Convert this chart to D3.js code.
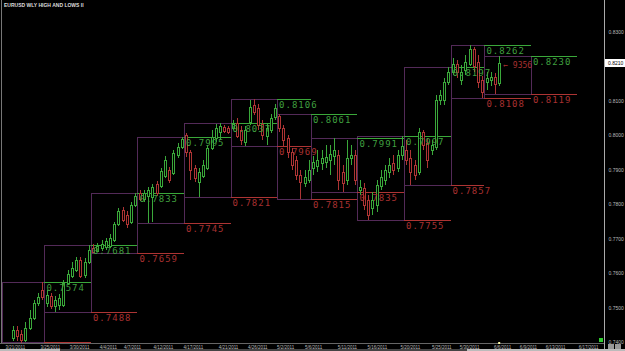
<!DOCTYPE html>
<html>
<head>
<meta charset="utf-8">
<script src="https://cdn.jsdelivr.net/npm/d3@7"></script>
<style>
  html, body { margin: 0; padding: 0; background: #000; overflow: hidden; }
  svg { display: block; }
  text { font-family: "DejaVu Sans Mono", monospace; }
</style>
</head>
<body>
<div id="root"></div>
<script>
// candle data, one entry per bar
var opens  = [0.7411,0.7435,0.7423,0.7406,0.7441,0.7470,0.7513,0.7551,0.7513,0.7533,0.7504,0.7507,0.7507,0.7571,0.7592,0.7609,0.7638,0.7594,0.7632,
  0.7673,0.7664,0.7673,0.7676,0.7679,0.7696,0.7743,0.7783,0.7769,0.7748,0.7798,0.7833,0.7815,0.7824,0.7821,0.7859,0.7853,0.7882,0.7899,0.7891,0.7943,0.7966,
  0.8001,0.7952,0.7905,0.7864,0.7882,0.7905,0.7963,0.7992,0.8010,0.8024,0.8021,0.8021,0.8036,0.8015,0.7981,0.8039,0.8088,0.8079,0.8033,0.7998,0.8015,0.8053,
  0.8056,0.8021,0.7992,0.7952,0.7928,0.7885,0.7862,0.7870,0.7905,0.7911,0.7920,0.7923,0.7928,0.7940,0.7943,0.7893,0.7870,0.7934,0.7943,
  0.7841,0.7847,0.7812,0.7789,0.7798,0.7853,0.7870,0.7893,0.7920,0.7905,0.7943,0.7957,0.7934,0.7914,0.7893,0.8010,0.7978,0.7957,0.7966,0.8103,0.8103,0.8155,
  0.8184,0.8207,0.8161,0.8190,0.8207,0.8250,0.8213,0.8161,0.8155,0.8161,0.8169,0.8152];
var highs  = [0.7446,0.7446,0.7435,0.7458,0.7493,0.7522,0.7542,0.7574,0.7551,0.7542,0.7533,0.7539,0.7580,0.7609,0.7632,0.7647,0.7647,0.7644,0.7681,
  0.7684,0.7687,0.7696,0.7702,0.7713,0.7748,0.7789,0.7792,0.7780,0.7806,0.7833,0.7841,0.7841,0.7850,0.7859,0.7867,0.7905,0.7940,0.7908,0.7957,0.7978,0.7995,
  0.8007,0.7957,0.7914,0.7905,0.7928,0.7972,0.8015,0.8033,0.8037,0.8030,0.8027,0.8044,0.8050,0.8027,0.8027,0.8103,0.8106,0.8091,0.8044,0.8033,0.8062,0.8091,
  0.8061,0.8030,0.8001,0.7963,0.7940,0.7899,0.7899,0.7928,0.7940,0.7957,0.7957,0.7972,0.7972,0.7991,0.7957,0.7914,0.7986,0.7972,0.7957,
  0.7870,0.7862,0.7827,0.7835,0.7870,0.7899,0.7914,0.7934,0.7943,0.7957,0.7997,0.7986,0.7957,0.7928,0.8021,0.8015,0.7992,0.7986,0.8117,0.8132,0.8166,0.8197,
  0.8225,0.8219,0.8204,0.8233,0.8262,0.8256,0.8233,0.8172,0.8184,0.8184,0.8181,0.8230];
var lows   = [0.7403,0.7403,0.7397,0.7400,0.7435,0.7464,0.7504,0.7522,0.7502,0.7496,0.7488,0.7493,0.7502,0.7565,0.7586,0.7603,0.7586,0.7586,0.7626,
  0.7659,0.7661,0.7664,0.7667,0.7673,0.7690,0.7737,0.7748,0.7731,0.7743,0.7792,0.7809,0.7806,0.7745,0.7748,0.7824,0.7847,0.7876,0.7862,0.7885,0.7934,0.7960,
  0.7937,0.7870,0.7864,0.7821,0.7876,0.7899,0.7957,0.7981,0.7986,0.8007,0.8004,0.8015,0.7992,0.7972,0.7969,0.8030,0.8059,0.8015,0.7986,0.7972,0.8007,0.8044,
  0.8010,0.7966,0.7934,0.7899,0.7870,0.7815,0.7850,0.7862,0.7885,0.7893,0.7899,0.7905,0.7885,0.7914,0.7841,0.7835,0.7856,0.7914,0.7856,
  0.7827,0.7783,0.7755,0.7769,0.7777,0.7841,0.7856,0.7876,0.7885,0.7893,0.7928,0.7914,0.7857,0.7870,0.7885,0.7957,0.7905,0.7943,0.7957,0.8088,0.8088,0.8146,
  0.8175,0.8166,0.8146,0.8175,0.8201,0.8184,0.8137,0.8108,0.8132,0.8143,0.8119,0.8143];
var closes = [0.7435,0.7417,0.7406,0.7441,0.7470,0.7513,0.7531,0.7531,0.7536,0.7504,0.7522,0.7528,0.7571,0.7597,0.7615,0.7638,0.7592,0.7632,0.7667,
  0.7661,0.7679,0.7684,0.7693,0.7702,0.7743,0.7780,0.7754,0.7743,0.7798,0.7824,0.7815,0.7833,0.7841,0.7850,0.7833,0.7896,0.7928,0.7870,0.7949,0.7966,0.7989,
  0.7952,0.7899,0.7876,0.7893,0.7914,0.7963,0.7995,0.8021,0.8027,0.8013,0.8010,0.8033,0.7998,0.7986,0.8015,0.8082,0.8068,0.8030,0.8001,0.8021,0.8050,0.8079,
  0.8021,0.7986,0.7952,0.7914,0.7885,0.7864,0.7879,0.7899,0.7923,0.7928,0.7934,0.7937,0.7946,0.7957,0.7870,0.7862,0.7934,0.7943,0.7870,
  0.7850,0.7798,0.7769,0.7812,0.7856,0.7879,0.7899,0.7914,0.7899,0.7943,0.7969,0.7928,0.7893,0.7885,0.8010,0.7972,0.7928,0.7972,0.8103,0.8117,0.8155,0.8184,
  0.8207,0.8184,0.8184,0.8213,0.8250,0.8201,0.8155,0.8126,0.8166,0.8169,0.8149,0.8210];

// weekly boxes: bar-index boundaries, highs and lows
var weekBounds = [-2.5, 7.5, 18.5, 29.5, 40.5, 51.5, 62.5, 70.5, 81.5, 92.5, 103.5, 111.5, 122.5, 133.5];
var weekHighs  = [0.7574, 0.7681, 0.7833, 0.7995, 0.8037, 0.8106, 0.8061, 0.7991, 0.7997, 0.8197, 0.8262, 0.8230];
var weekLows   = [0.7400, 0.7488, 0.7659, 0.7745, 0.7821, 0.7969, 0.7815, 0.7835, 0.7755, 0.7857, 0.8108, 0.8119];

// axis ticks (0.8200 sits under the price tag)
var priceTicks = [0.74, 0.75, 0.76, 0.77, 0.78, 0.79, 0.80, 0.81, 0.83];
var dateTickIdx = [0.5, 8.8, 15.7, 22.5, 28.2, 35.5, 42.6, 50.9, 57.8, 64.4, 71, 79, 86.1, 93.9, 101.3, 107.9, 115.7, 121.8, 128.2, 136];
var dateTickLabels = ["3/21/2011","3/25/2011","3/30/2011","4/4/2011","4/7/2011","4/12/2011","4/17/2011","4/21/2011","4/26/2011","5/2/2011",
  "5/6/2011","5/11/2011","5/16/2011","5/20/2011","5/25/2011","5/30/2011","6/6/2011","6/9/2011","6/13/2011","6/17/2011"];
var lastPrice = 0.8210;
var markerText = "9356";

var w = 625, h = 351;
var plotRight = 604, plotBottom = 343;
var green = "#3aa83a", red = "#ad3434", purple = "#532a58";
var labelGreen = "#3f9f3f", labelRed = "#a83030";
var fmt = d3.format(".4f");

var x = d3.scaleLinear().domain([0, 115]).range([12.7, 499.2]);
var y = d3.scaleLinear().domain([0.74, 0.83]).range([342, 32]);

var svg = d3.select("#root").append("svg").attr("width", w).attr("height", h);
svg.append("rect").attr("width", w).attr("height", h).attr("fill", "#000");

svg.append("defs").append("clipPath").attr("id", "plot")
  .append("rect").attr("x", 2).attr("y", 0).attr("width", plotRight - 2).attr("height", plotBottom);

var plot = svg.append("g").attr("clip-path", "url(#plot)").attr("shape-rendering", "crispEdges");

var weeks = d3.range(weekHighs.length);

// weekly range boxes
plot.selectAll("rect.week").data(weeks).enter().append("rect")
  .attr("class", "week")
  .attr("x", function(i) { return Math.round(x(weekBounds[i])) + 0.5; })
  .attr("y", function(i) { return Math.round(y(weekHighs[i])) + 0.5; })
  .attr("width", function(i) { return Math.round(x(weekBounds[i + 1])) - Math.round(x(weekBounds[i])); })
  .attr("height", function(i) { return Math.round(y(weekLows[i])) - Math.round(y(weekHighs[i])); })
  .attr("fill", "none").attr("stroke", purple).attr("stroke-width", 1);

// previous week high / low carried into the next week
var carry = weeks.filter(function(i) { return i + 2 < weekBounds.length; });
plot.selectAll("line.hi").data(carry).enter().append("line")
  .attr("x1", function(i) { return x(weekBounds[i + 1]); })
  .attr("x2", function(i) { return x(weekBounds[i + 2]); })
  .attr("y1", function(i) { return Math.round(y(weekHighs[i])) + 0.5; })
  .attr("y2", function(i) { return Math.round(y(weekHighs[i])) + 0.5; })
  .attr("stroke", green);
plot.selectAll("line.lo").data(carry).enter().append("line")
  .attr("x1", function(i) { return x(weekBounds[i + 1]); })
  .attr("x2", function(i) { return x(weekBounds[i + 2]); })
  .attr("y1", function(i) { return Math.round(y(weekLows[i])) + 0.5; })
  .attr("y2", function(i) { return Math.round(y(weekLows[i])) + 0.5; })
  .attr("stroke", red);

// candles
var bars = d3.range(opens.length);
var candle = plot.selectAll("g.candle").data(bars).enter().append("g");
candle.append("line")
  .attr("x1", function(i) { return Math.round(x(i)) + 0.5; })
  .attr("x2", function(i) { return Math.round(x(i)) + 0.5; })
  .attr("y1", function(i) { return y(highs[i]); })
  .attr("y2", function(i) { return y(lows[i]); })
  .attr("stroke", function(i) { return closes[i] >= opens[i] ? green : red; });
candle.append("rect")
  .attr("x", function(i) { return Math.round(x(i)) - 1 + 0.5; })
  .attr("y", function(i) { return Math.round(y(Math.max(opens[i], closes[i]))) + 0.5; })
  .attr("width", 2)
  .attr("height", function(i) { return Math.max(1, Math.round(Math.abs(y(opens[i]) - y(closes[i])))); })
  .attr("fill", "#000")
  .attr("stroke", function(i) { return closes[i] >= opens[i] ? green : red; });

// level labels
var labels = svg.append("g").style("font-size", "9px").style("letter-spacing", "1px");
labels.selectAll("text.hi").data(carry).enter().append("text")
  .attr("x", function(i) { return x(weekBounds[i + 1]) + 2; })
  .attr("y", function(i) { return y(weekHighs[i]) + 9; })
  .attr("fill", labelGreen).text(function(i) { return fmt(weekHighs[i]); });
labels.selectAll("text.lo").data(carry.filter(function(i) { return y(weekLows[i]) < 330; })).enter().append("text")
  .attr("x", function(i) { return x(weekBounds[i + 1]) + 2; })
  .attr("y", function(i) { return y(weekLows[i]) + 9; })
  .attr("fill", labelRed).text(function(i) { return fmt(weekLows[i]); });

// marker next to the last bar
var last = opens.length - 1;
svg.append("text").attr("x", x(last) + 4).attr("y", y(lastPrice) + 5)
  .attr("fill", labelRed).style("font-size", "8px").text("\u2190 " + markerText);

// frame lines
svg.append("line").attr("x1", 1.5).attr("x2", 1.5).attr("y1", 0).attr("y2", plotBottom).attr("stroke", "#777");
svg.append("line").attr("x1", 0).attr("x2", plotRight).attr("y1", plotBottom + 0.5).attr("y2", plotBottom + 0.5).attr("stroke", "#666");

// price axis on the right
var yAxis = d3.axisRight(y).tickValues(priceTicks).tickFormat(fmt).tickSize(0).tickPadding(4);
var ya = svg.append("g").attr("transform", "translate(" + (plotRight + 0.5) + ",0)").call(yAxis);
ya.select(".domain").attr("stroke", "#aaa").attr("d", "M0,0V" + h);
ya.selectAll("text").attr("fill", "#bbb").style("font-size", "5px").style("font-family", "Liberation Sans, Arial, sans-serif");

// current price tag
svg.append("rect").attr("x", plotRight + 1).attr("y", y(lastPrice) - 4).attr("width", 20).attr("height", 8).attr("fill", "#fff");
svg.append("text").attr("x", plotRight + 4).attr("y", y(lastPrice) + 2).attr("fill", "#000")
  .style("font-size", "5px").style("font-family", "Liberation Sans, Arial, sans-serif").text(fmt(lastPrice));

// date axis
var xa = svg.append("g").attr("transform", "translate(0," + plotBottom + ")")
  .call(d3.axisBottom(x).tickValues(dateTickIdx).tickFormat(function(d, i) { return dateTickLabels[i]; }).tickSize(0).tickPadding(2.5));
xa.select(".domain").remove();
xa.selectAll("text").attr("fill", "#bbb").style("font-size", "4.5px").style("font-family", "Liberation Sans, Arial, sans-serif");

// small markers and scrollbar
svg.append("rect").attr("x", 599).attr("y", 338).attr("width", 4).attr("height", 4).attr("fill", "#2ecc2e");
svg.append("rect").attr("x", x(last) - 1).attr("y", plotBottom - 1).attr("width", 2).attr("height", 2).attr("fill", "#ffffaa");
svg.append("rect").attr("x", 0).attr("y", 349).attr("width", w).attr("height", 2).attr("fill", "#444");
svg.append("rect").attr("x", 0).attr("y", 349).attr("width", 60).attr("height", 2).attr("fill", "#bbb");
svg.append("rect").attr("x", 467).attr("y", 349).attr("width", 158).attr("height", 2).attr("fill", "#bbb");
svg.append("rect").attr("x", 608).attr("y", 344).attr("width", 6).attr("height", 5).attr("fill", "#999");
svg.append("rect").attr("x", 615).attr("y", 344).attr("width", 6).attr("height", 5).attr("fill", "#999");

// title
svg.append("text").attr("x", 4).attr("y", 7).attr("fill", "#ddd")
  .style("font-size", "5px").style("font-weight", "bold").style("font-family", "Liberation Sans, Arial, sans-serif")
  .text("EURUSD WLY HIGH AND LOWS II");
</script>
</body>
</html>
